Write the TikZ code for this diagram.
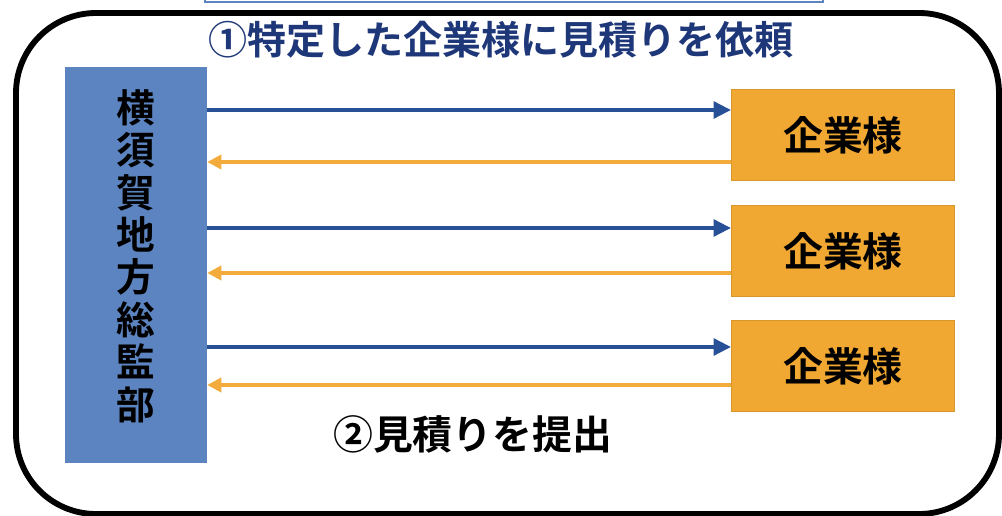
\documentclass[tikz,border=0pt]{standalone}
\usepackage{fontspec}
\newfontfamily\cjk{Noto Sans CJK JP}[BoldFont={Noto Sans CJK JP Bold}]
\usetikzlibrary{arrows.meta,calc}
\definecolor{hqblue}{RGB}{92,132,192}
\definecolor{arrblue}{RGB}{40,80,150}
\definecolor{corp}{RGB}{240,168,50}
\definecolor{arrorange}{RGB}{243,172,60}
\definecolor{navy}{RGB}{30,55,120}
\tikzset{
  corpbox/.style={fill=corp, draw=corp!90!black, line width=0.6pt, minimum width=223*0.03cm, minimum height=91*0.03cm, inner sep=0pt,
     font=\cjk\bfseries\fontsize{34}{34}\selectfont, text=black},
  barrow/.style={draw=arrblue, line width=3.8pt, -{Triangle[length=15pt,width=14pt]}},
  oarrow/.style={draw=arrorange, line width=3.8pt, -{Triangle[length=12pt,width=12pt]}},
  frame/.style={draw=black, line width=5pt, rounded corners=2.4cm},
}
\begin{document}
\begin{tikzpicture}[x=0.03cm,y=-0.03cm]
\useasboundingbox (0,0) rectangle (1002,516);
% partial box cut at top
\draw[hqblue, line width=2.5pt] (205,-2) -- (205,2) -- (823,2) -- (823,-2);
% outer frame
\draw[frame] (16,13) rectangle (999,514);
% headquarters
\node[fill=hqblue, minimum width=142*0.03cm, minimum height=396*0.03cm, inner sep=0pt] (hq) at (136,265) {};
\node[font=\cjk\bfseries\fontsize{33}{36.2}\selectfont, align=center, inner sep=0pt] (hqtext) at (136,256)
  {横\\須\\賀\\地\\方\\総\\監\\部};
% companies
\node[corpbox] (o1) at (843,135) {企業様};
\node[corpbox] (o2) at (843,251) {企業様};
\node[corpbox] (o3) at (843,366) {企業様};
% arrows
\draw[barrow] (hq.east |- 0,110) -- (o1.west |- 0,110);
\draw[oarrow] (o1.west |- 0,162) -- (hq.east |- 0,162);
\draw[barrow] (hq.east |- 0,228) -- (o2.west |- 0,228);
\draw[oarrow] (o2.west |- 0,273) -- (hq.east |- 0,273);
\draw[barrow] (hq.east |- 0,347) -- (o3.west |- 0,347);
\draw[oarrow] (o3.west |- 0,385) -- (hq.east |- 0,385);
% labels
\node[font=\cjk\bfseries\fontsize{33.3}{33.3}\selectfont, text=navy, anchor=west, inner sep=0pt] (t1) at (208,40) {①特定した企業様に見積りを依頼};
\node[font=\cjk\bfseries\fontsize{34}{34}\selectfont, text=black, anchor=west, inner sep=0pt] (t2) at (333,434) {②見積りを提出};
\end{tikzpicture}
\end{document}
